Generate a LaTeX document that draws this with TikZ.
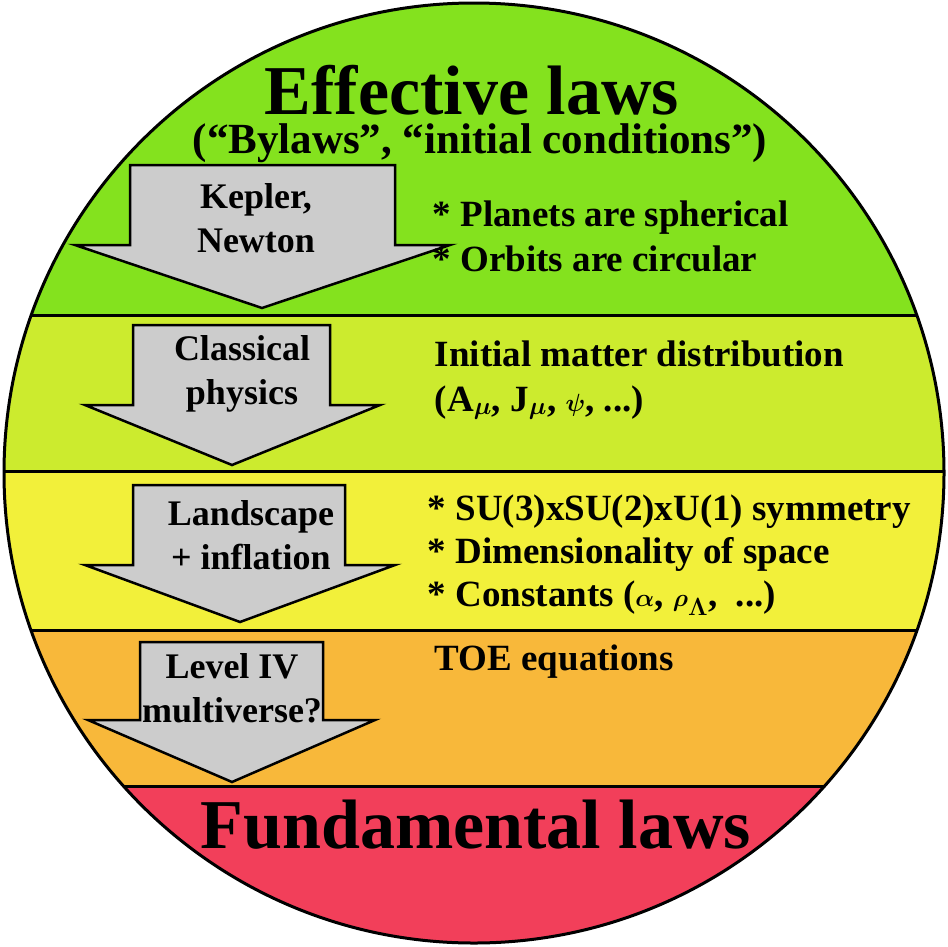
\documentclass[tikz,border=0pt]{standalone}
\usepackage{amsmath}
\usepackage{bm}
\usepackage{fontspec}
\setmainfont{Liberation Serif}
\definecolor{cA}{HTML}{84E21E}
\definecolor{cB}{HTML}{CCEB2E}
\definecolor{cC}{HTML}{F2F03A}
\definecolor{cD}{HTML}{F8B83A}
\definecolor{cE}{HTML}{F23F5A}
\begin{document}
\begin{tikzpicture}[x=1pt,y=-1pt,line width=3pt,
  arr/.style={fill=gray!40,draw=black,line width=2.5pt,line join=miter},
  lab/.style={font=\bfseries\fontsize{36}{44}\selectfont,align=center},
  txt/.style={font=\bfseries\fontsize{37}{45}\selectfont,align=left,anchor=west}]
\useasboundingbox (0,0) rectangle (948,946);
\def\C{(474,473) circle (470)}
\begin{scope}
\clip \C;
\fill[cA] (0,0) rectangle (948,315);
\fill[cB] (0,315) rectangle (948,471);
\fill[cC] (0,471) rectangle (948,630);
\fill[cD] (0,630) rectangle (948,786);
\fill[cE] (0,786) rectangle (948,946);
\draw (0,315) -- (948,315) (0,471) -- (948,471) (0,630) -- (948,630) (0,786) -- (948,786);
\end{scope}
\draw \C;
\draw[arr] (130,165) -- (395,165) -- (395,245) -- (450,245) -- (262,308) -- (75,245) -- (130,245) -- cycle;
\draw[arr] (133,325) -- (330,325) -- (330,405) -- (380,405) -- (232,465) -- (85,405) -- (133,405) -- cycle;
\draw[arr] (133,485) -- (345,485) -- (345,565) -- (395,565) -- (240,622) -- (85,565) -- (133,565) -- cycle;
\draw[arr] (140,642) -- (323,642) -- (323,720) -- (375,720) -- (232,782) -- (88,720) -- (140,720) -- cycle;
\node[font=\bfseries\fontsize{70}{76}\selectfont] (t) at (472,90) {Effective laws};
\node[font=\bfseries\fontsize{43}{48}\selectfont] (s) at (480,143) {(“Bylaws”, “initial conditions”)};
\node[lab] (a1) at (256,218) {Kepler,\\Newton};
\node[lab] (a2) at (242,374) {Classical\\physics};
\node[lab] (a3) at (251,535) {Landscape\\+ inflation};
\node[lab] (a4) at (232,688) {Level IV\\multiverse?};
\node[txt] (b1) at (428,236) {* Planets are spherical\\* Orbits are circular};
\node[txt] (b2) at (430,380) {Initial matter distribution\\(A$_{\bm\mu}$, J$_{\bm\mu}$, $\bm\psi$, ...)};
\node[txt,font=\bfseries\fontsize{37}{43}\selectfont] (b3) at (423,555) {* SU(3)xSU(2)xU(1) symmetry\\* Dimensionality of space\\* Constants ($\bm\alpha$, $\bm\rho_{\bm\Lambda}$,\ \ ...)};
\node[txt] (b4) at (430,662) {TOE equations};
\node[font=\bfseries\fontsize{70}{76}\selectfont] (f) at (476,825) {Fundamental laws};
\end{tikzpicture}
\end{document}
